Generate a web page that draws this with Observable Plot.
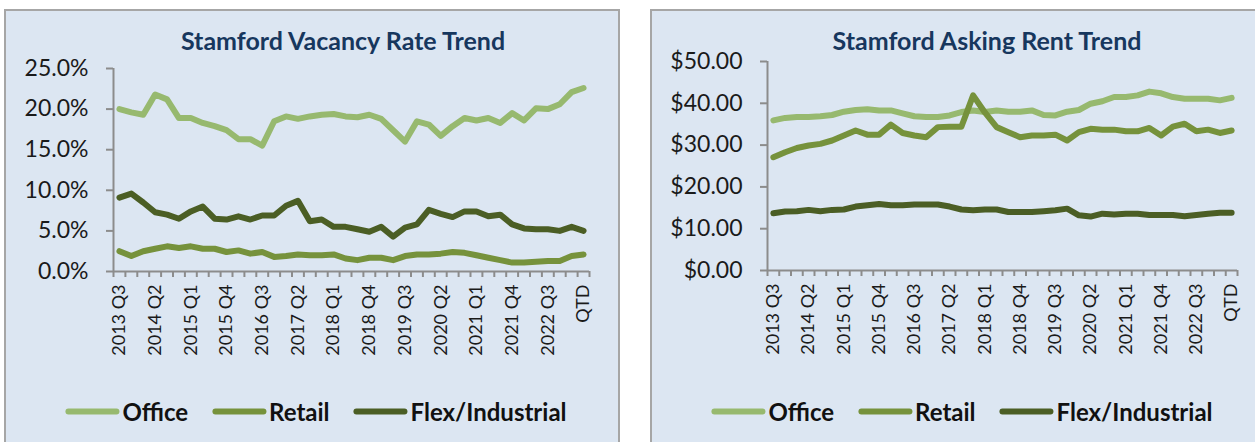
<!DOCTYPE html>
<html><head><meta charset="utf-8">
<script src="https://cdn.jsdelivr.net/npm/d3@7"></script>
<script src="https://cdn.jsdelivr.net/npm/@observablehq/plot@0.6"></script>
<style>
body{margin:0;width:1255px;height:442px;overflow:hidden;background:#fff;position:relative;font-family:Lato,sans-serif;}
.panel{position:absolute;background:#dce6f2;border:2px solid #a6a6a6;box-sizing:border-box;}
.title{position:absolute;font-weight:bold;color:#17375e;font-size:25px;line-height:1;white-space:nowrap;transform:translateX(-50%);}
.legend{position:absolute;display:flex;align-items:center;gap:24px;transform:translate(-50%,-50%);white-space:nowrap;font-weight:bold;font-size:24px;color:#111;}
.legend .item{display:flex;align-items:center;}
.legend .sw{display:inline-block;width:54px;height:6px;border-radius:3px;margin-right:3px;}
.chart{position:absolute;top:0;}
</style></head>
<body>
<div class="panel" style="left:4px;top:9px;width:616px;height:450px"></div>
<div class="panel" style="left:650px;top:9px;width:625px;height:450px"></div>
<div id="c1" class="chart" style="left:0"></div>
<div id="c2" class="chart" style="left:640px"></div>
<div class="title" style="left:343px;top:28px">Stamford Vacancy Rate Trend</div>
<div class="title" style="left:987px;top:28px">Stamford Asking Rent Trend</div>
<div id="lg1" class="legend" style="left:316px;top:411px"></div>
<div id="lg2" class="legend" style="left:962px;top:411px"></div>
<script>
const categories = ["2013 Q3","2013 Q4","2014 Q1","2014 Q2","2014 Q3","2014 Q4","2015 Q1","2015 Q2","2015 Q3","2015 Q4",
  "2016 Q1","2016 Q2","2016 Q3","2016 Q4","2017 Q1","2017 Q2","2017 Q3","2017 Q4","2018 Q1","2018 Q2",
  "2018 Q3","2018 Q4","2019 Q1","2019 Q2","2019 Q3","2019 Q4","2020 Q1","2020 Q2","2020 Q3","2020 Q4",
  "2021 Q1","2021 Q2","2021 Q3","2021 Q4","2022 Q1","2022 Q2","2022 Q3","2022 Q4","2023 Q1","QTD"];
const shownLabels = ["2013 Q3","2014 Q2","2015 Q1","2015 Q4","2016 Q3","2017 Q2","2018 Q1","2018 Q4","2019 Q3","2020 Q2","2021 Q1","2021 Q4","2022 Q3","QTD"];
const seriesNames = ["Office","Retail","Flex/Industrial"];
const seriesColors = ["#97b96f","#76923c","#4b5e25"];

const vacancyOffice = [20.0,19.6,19.3,21.8,21.2,18.9,18.9,18.3,17.9,17.4,16.3,16.3,15.5,18.5,19.1,18.8,19.1,19.3,19.4,19.1,
  19.0,19.3,18.8,17.4,16.0,18.5,18.1,16.7,17.9,18.9,18.6,18.9,18.3,19.5,18.6,20.1,20.0,20.6,22.1,22.6];
const vacancyRetail = [2.5,1.9,2.5,2.8,3.1,2.9,3.1,2.8,2.8,2.4,2.6,2.2,2.4,1.8,1.9,2.1,2.0,2.0,2.1,1.6,
  1.4,1.7,1.7,1.4,1.9,2.1,2.1,2.2,2.4,2.3,2.0,1.7,1.4,1.1,1.1,1.2,1.3,1.3,1.9,2.1];
const vacancyFlex = [9.1,9.6,8.5,7.3,7.0,6.5,7.4,8.0,6.5,6.4,6.8,6.4,6.9,6.9,8.1,8.7,6.2,6.4,5.5,5.5,
  5.2,4.9,5.5,4.3,5.4,5.8,7.6,7.1,6.7,7.4,7.4,6.8,7.0,5.8,5.3,5.2,5.2,5.0,5.5,5.0];

const rentOffice = [35.9,36.5,36.7,36.7,36.9,37.2,38.0,38.4,38.6,38.3,38.3,37.6,36.9,36.7,36.7,37.1,37.9,38.3,37.9,38.3,
  38.0,38.0,38.3,37.2,37.1,38.0,38.4,39.9,40.5,41.5,41.5,41.9,42.8,42.4,41.5,41.1,41.1,41.1,40.7,41.3];
const rentRetail = [27.1,28.3,29.3,29.9,30.3,31.1,32.3,33.5,32.5,32.5,34.9,32.9,32.3,31.9,34.3,34.4,34.4,41.9,37.8,34.3,
  33.1,31.9,32.3,32.3,32.5,31.1,33.1,33.9,33.7,33.7,33.3,33.3,34.1,32.3,34.4,35.1,33.3,33.7,32.9,33.5];
const rentFlex = [13.7,14.1,14.2,14.5,14.2,14.5,14.6,15.3,15.6,15.9,15.6,15.6,15.8,15.8,15.8,15.3,14.6,14.4,14.6,14.6,
  14.0,14.0,14.0,14.2,14.4,14.8,13.2,12.9,13.6,13.4,13.6,13.6,13.3,13.3,13.3,13.0,13.3,13.6,13.8,13.8];

const vacancyTicks = [0,5,10,15,20,25];
const rentTicks = [0,10,20,30,40,50];

function toRows(seriesList){
  const rows = [];
  seriesList.forEach((vals, s) => vals.forEach((v, i) => rows.push({series: seriesNames[s], idx: i, value: v})));
  return rows;
}

function makeChart(cfg){
  const rows = toRows(cfg.series);
  const n = categories.length;
  const bounds = d3.range(n + 1).map(i => i - 0.5);
  const labelIdx = shownLabels.map(l => categories.indexOf(l));
  const axisColor = "#8c8c8c";
  return Plot.plot({
    width: cfg.width, height: 380,
    marginLeft: cfg.ml, marginRight: cfg.mr, marginTop: cfg.mt, marginBottom: cfg.mb,
    style: {background: "transparent", fontFamily: "Lato, sans-serif", color: "#222"},
    x: {type: "linear", domain: [-0.5, n - 0.5], axis: null},
    y: {domain: cfg.domain, axis: null},
    color: {domain: seriesNames, range: seriesColors},
    marks: [
      Plot.ruleX([-0.5], {stroke: axisColor, strokeWidth: 2}),
      Plot.axisY(cfg.ticks, {tickSize: 7, tickPadding: 18, stroke: axisColor, strokeWidth: 2, fill: "#1a1a1a",
        fontSize: 23, tickFormat: cfg.fmt, label: null}),
      Plot.axisX(bounds, {tickSize: 6, stroke: axisColor, strokeWidth: 2, tickFormat: () => "", label: null}),
      Plot.axisX(labelIdx, {tickSize: 0, tickPadding: 13, tickRotate: -90, fontSize: 18, fill: "#1a1a1a",
        tickFormat: i => categories[i], label: null}),
      Plot.ruleY([0], {stroke: axisColor, strokeWidth: 2}),
      Plot.line(rows, {x: "idx", y: "value", z: "series", stroke: "series", strokeWidth: 6,
        strokeLinejoin: "round", strokeLinecap: "round"})
    ]
  });
}

document.getElementById("c1").append(makeChart({
  series: [vacancyOffice, vacancyRetail, vacancyFlex], width: 620, ml: 113, mr: 31, mt: 68, mb: 109,
  domain: [0, 25], ticks: vacancyTicks, fmt: v => v.toFixed(1) + "%"
}));
document.getElementById("c2").append(makeChart({
  series: [rentOffice, rentRetail, rentFlex], width: 615, ml: 127, mr: 18, mt: 61, mb: 110,
  domain: [0, 50], ticks: rentTicks, fmt: v => "$" + v.toFixed(2)
}));

function legend(id){
  const el = document.getElementById(id);
  seriesNames.forEach((name, i) => {
    const item = document.createElement("div"); item.className = "item";
    const sw = document.createElement("span"); sw.className = "sw"; sw.style.background = seriesColors[i];
    const t = document.createElement("span"); t.textContent = name;
    item.append(sw, t); el.append(item);
  });
}
legend("lg1"); legend("lg2");
</script>
</body></html>
